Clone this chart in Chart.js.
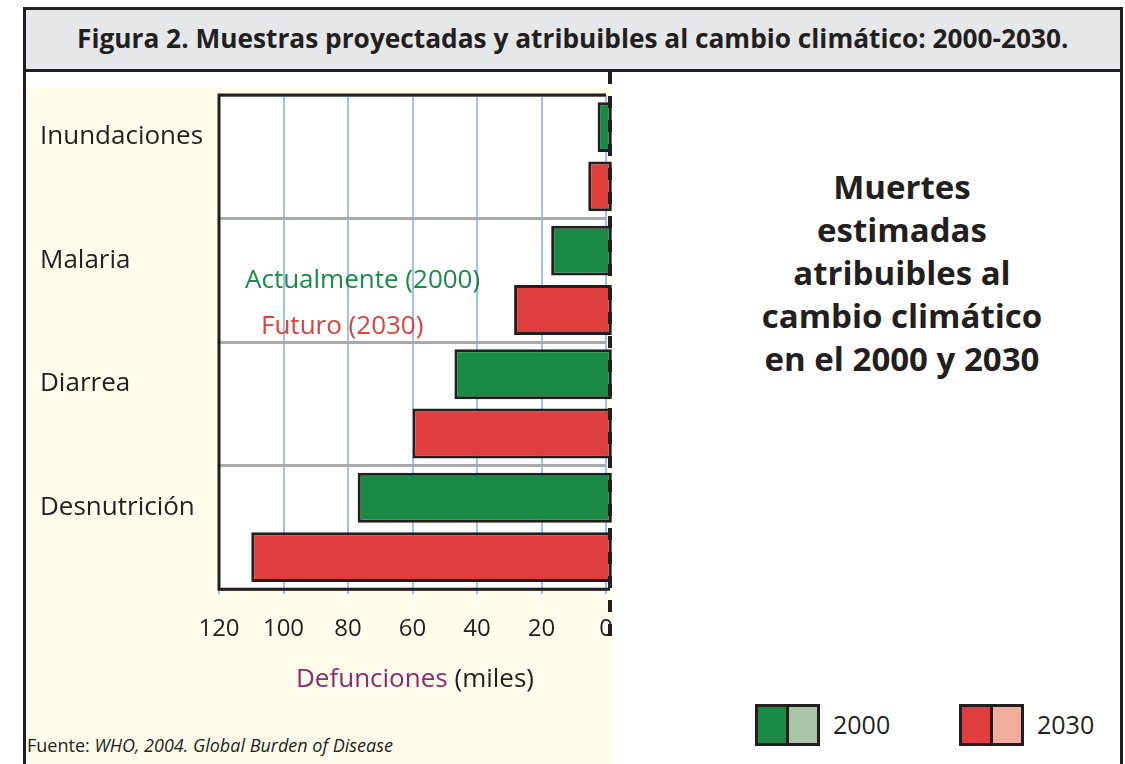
<!DOCTYPE html>
<html>
<head>
<meta charset="utf-8">
<script src="https://cdn.jsdelivr.net/npm/chart.js@4/dist/chart.umd.min.js"></script>
<style>
  body { margin: 0; width: 1125px; height: 764px; overflow: hidden; background: #fff;
         font-family: "Open Sans", sans-serif; color: #231f20; position: relative; }
  .abs { position: absolute; }
  #frame { left: 23px; top: 7px; width: 1094px; height: 800px; border: 3px solid #231f20; }
  #header { left: 23px; top: 7px; width: 1094px; height: 59px; border: 3px solid #231f20; background: #e6e7e8; }
  #title { left: 23px; width: 1100px; top: 20px; text-align: center; font-weight: 700; font-size: 27px;
           line-height: 36px; white-space: nowrap; }
  #title span { display: inline-block; transform-origin: center; }
  #cream { left: 26px; top: 88px; width: 586px; height: 676px; background: #fffcec; }
  #wrap { left: 25px; top: 72px; width: 600px; height: 593px; }
  .note { font-size: 26px; white-space: nowrap; line-height: 32px; }
  #side { left: 730px; width: 344px; top: 165px; text-align: center; font-weight: 700;
          font-size: 33px; line-height: 43px; }
  #xtitle { left: 215px; width: 400px; top: 661px; text-align: center; font-size: 26px; line-height: 32px; }
  .box { width: 28px; height: 36px; border: 3px solid #231f20; top: 704px; }
  .leg { font-size: 25px; top: 707px; line-height: 34px; }
  #src { left: 27px; top: 732px; font-size: 18px; line-height: 26px; white-space: nowrap; }
</style>
</head>
<body>
<div class="abs" id="frame"></div>
<div class="abs" id="header"></div>
<div class="abs" id="title"><span id="titleText">Figura 2. Muestras proyectadas y atribuibles al cambio climático: 2000-2030.</span></div>
<div class="abs" id="cream"></div>
<div class="abs" id="wrap"><canvas id="chart" width="600" height="593"></canvas></div>

<div class="abs note" style="left:245px; top:262px; color:#1a8a45;">Actualmente (2000)</div>
<div class="abs note" style="left:261px; top:308px; color:#e03f3d;">Futuro (2030)</div>

<div class="abs" id="side">Muertes<br>estimadas<br>atribuibles al<br>cambio climático<br>en el 2000 y 2030</div>

<div class="abs" id="xtitle"><span style="color:#8e2a6e;">Defunciones</span> (miles)</div>

<div class="abs box" style="left:755px; background:#1a8a45;"></div>
<div class="abs box" style="left:786px; background:#a8c6a5;"></div>
<div class="abs leg" style="left:833px;">2000</div>
<div class="abs box" style="left:959px; background:#e03f3d;"></div>
<div class="abs box" style="left:990px; background:#f0ad9b;"></div>
<div class="abs leg" style="left:1037px;">2030</div>

<div class="abs" id="src">Fuente: <i>WHO, 2004. Global Burden of Disease</i></div>

<script>
// data (thousands of deaths)
const categories = ["Inundaciones", "Malaria", "Diarrea", "Desnutrición"];
const deaths2000 = [2.6, 17, 47, 77];
const deaths2030 = [5.5, 28.5, 60, 110];
const xTicks = [0, 20, 40, 60, 80, 100, 120];

const ink = "#231f20";

// squeeze the title into the header width
const t = document.getElementById("titleText");
t.style.transform = "scaleX(" + Math.min(1, 992 / t.offsetWidth) + ")";

// white plot area + black frame on top / left / bottom
const framePlugin = {
  id: "frame",
  beforeDraw(chart) {
    const a = chart.chartArea, c = chart.ctx;
    c.save();
    c.fillStyle = "#ffffff";
    c.fillRect(a.left, a.top, a.width, a.height);
    c.restore();
  },
  beforeDatasetsDraw(chart) {
    const a = chart.chartArea, c = chart.ctx;
    c.save();
    c.strokeStyle = ink;
    c.lineWidth = 3;
    c.beginPath();
    c.moveTo(a.right, a.top);
    c.lineTo(a.left, a.top);
    c.lineTo(a.left, a.bottom);
    c.lineTo(a.right + 4, a.bottom);
    c.stroke();
    c.restore();
  }
};

// thick dashed line at zero
const zeroLine = {
  id: "zeroLine",
  afterDatasetsDraw(chart) {
    const x = chart.scales.x.getPixelForValue(0) + 4, c = chart.ctx;
    c.save();
    c.strokeStyle = ink;
    c.lineWidth = 4;
    c.setLineDash([12, 12]);
    c.beginPath();
    c.moveTo(x, 0);
    c.lineTo(x, chart.chartArea.bottom + 58);
    c.stroke();
    c.restore();
  }
};

new Chart(document.getElementById("chart"), {
  type: "bar",
  data: {
    labels: categories,
    datasets: [
      { label: "2000", data: deaths2000, backgroundColor: "#1a8a45" },
      { label: "2030", data: deaths2030, backgroundColor: "#e03f3d" }
    ]
  },
  options: {
    indexAxis: "y",
    responsive: false,
    animation: false,
    devicePixelRatio: 1,
    layout: { padding: { left: 15, top: 23, right: 19, bottom: 0 } },
    datasets: {
      bar: { borderColor: ink, borderWidth: 3, borderSkipped: false, base: -1.8, clip: false,
             categoryPercentage: 0.96, barPercentage: 0.84 }
    },
    plugins: { legend: { display: false }, tooltip: { enabled: false } },
    scales: {
      x: {
        type: "linear",
        reverse: true,
        min: 0,
        max: 120,
        afterBuildTicks: s => { s.ticks = xTicks.map(v => ({ value: v })); },
        grid: { color: "#9dc3e6", lineWidth: 2, tickLength: 5, tickColor: "#9dc3e6" },
        border: { display: false },
        ticks: { padding: 21, maxRotation: 0, color: ink,
                 font: { family: "Open Sans", size: 24 } }
      },
      y: {
        afterFit: s => { s.width = 179; },
        grid: { offset: true, color: "#a7a9ac", lineWidth: 3, drawTicks: false },
        border: { display: false },
        ticks: { crossAlign: "far", labelOffset: -20, padding: 0, color: ink,
                 font: { family: "Open Sans", size: 26 } }
      }
    }
  },
  plugins: [framePlugin, zeroLine]
});
</script>
</body>
</html>
